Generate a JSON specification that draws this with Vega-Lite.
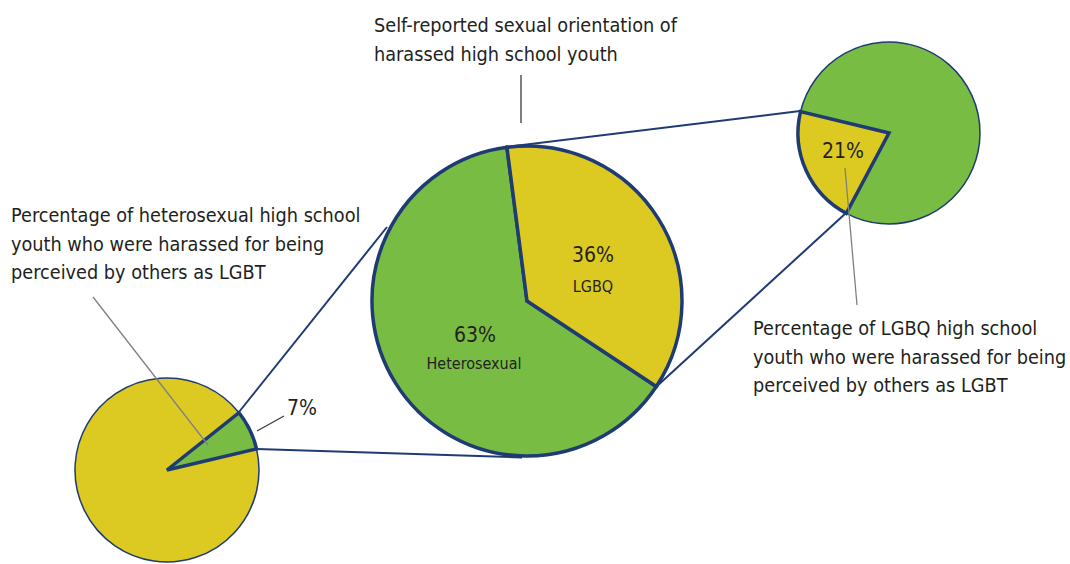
{
  "$schema": "https://vega.github.io/schema/vega-lite/v6.json",
  "width": 1070,
  "height": 564,
  "autosize": {"type": "none"},
  "padding": 0,
  "background": "white",
  "config": {"view": {"stroke": null}, "font": "DejaVu Sans Condensed, sans-serif"},
  "datasets": {
    "heteroPie": [
      {"pie": "Heterosexual high school youth", "group": "Harassed for being perceived as LGBT", "pct": 7, "cx": 167, "cy": 470},
      {"pie": "Heterosexual high school youth", "group": "Not harassed for being perceived as LGBT", "pct": 93, "cx": 167, "cy": 470}
    ],
    "orientationPie": [
      {"pie": "Harassed high school youth", "group": "Heterosexual", "pct": 63, "cx": 527, "cy": 301},
      {"pie": "Harassed high school youth", "group": "LGBQ", "pct": 36, "cx": 527, "cy": 301}
    ],
    "lgbqPie": [
      {"pie": "LGBQ high school youth", "group": "Harassed for being perceived as LGBT", "pct": 21, "cx": 889, "cy": 133},
      {"pie": "LGBQ high school youth", "group": "Not harassed for being perceived as LGBT", "pct": 79, "cx": 889, "cy": 133}
    ],
    "connectors": [
      {"x": 239, "y": 412, "x2": 387, "y2": 227},
      {"x": 257, "y": 449, "x2": 522, "y2": 457.5},
      {"x": 506, "y": 147, "x2": 800, "y2": 111},
      {"x": 656, "y": 387, "x2": 846, "y2": 213}
    ],
    "leaders": [
      {"tone": "grey", "x": 93, "y": 297, "x2": 208, "y2": 445},
      {"tone": "grey", "x": 845, "y": 168, "x2": 857, "y2": 305},
      {"tone": "dark", "x": 521, "y": 75, "x2": 521, "y2": 123},
      {"tone": "dark", "x": 257, "y": 431, "x2": 284, "y2": 416}
    ],
    "labels": [
      {"kind": "note", "x": 374, "y": 32, "text": "Self-reported sexual orientation of\nharassed high school youth"},
      {"kind": "note", "x": 11, "y": 222, "text": "Percentage of heterosexual high school\nyouth who were harassed for being\nperceived by others as LGBT"},
      {"kind": "note", "x": 753, "y": 335, "text": "Percentage of LGBQ high school\nyouth who were harassed for being\nperceived by others as LGBT"},
      {"kind": "pct", "x": 302, "y": 415, "text": "7%"},
      {"kind": "pct", "x": 593, "y": 262, "text": "36%"},
      {"kind": "pct", "x": 475, "y": 342, "text": "63%"},
      {"kind": "pct", "x": 843, "y": 158, "text": "21%"},
      {"kind": "group", "x": 593, "y": 292, "text": "LGBQ"},
      {"kind": "group", "x": 474, "y": 369, "text": "Heterosexual"}
    ]
  },
  "resolve": {"scale": {"theta": "independent", "color": "independent"}},
  "layer": [
    {
      "data": {"name": "connectors"},
      "mark": {"type": "rule", "stroke": "#1F3B73", "strokeWidth": 2},
      "encoding": {
        "x": {"field": "x", "type": "quantitative", "scale": {"domain": [0, 1070], "nice": false, "zero": false}, "axis": null},
        "y": {"field": "y", "type": "quantitative", "scale": {"domain": [0, 564], "nice": false, "zero": false, "reverse": true}, "axis": null},
        "x2": {"field": "x2"},
        "y2": {"field": "y2"}
      }
    },
    {
      "data": {"name": "heteroPie"},
      "encoding": {
        "x": {"field": "cx", "type": "quantitative", "scale": {"domain": [0, 1070], "nice": false, "zero": false}, "axis": null},
        "y": {"field": "cy", "type": "quantitative", "scale": {"domain": [0, 564], "nice": false, "zero": false, "reverse": true}, "axis": null},
        "theta": {"field": "pct", "type": "quantitative", "stack": true, "scale": {"nice": false, "range": [0.899, 7.182]}},
        "order": {"field": "pct", "sort": "ascending"},
        "color": {"field": "group", "type": "nominal", "scale": {"domain": ["Harassed for being perceived as LGBT", "Not harassed for being perceived as LGBT"], "range": ["#78BC43", "#DCCA22"]}, "legend": null}
      },
      "layer": [
        {"mark": {"type": "arc", "outerRadius": 92, "stroke": "#1F3B73", "strokeWidth": 1.5}},
        {
          "mark": {"type": "arc", "outerRadius": 92, "fillOpacity": 0, "stroke": "#1F3B73", "strokeWidth": 3.5, "strokeJoin": "miter"},
          "encoding": {"strokeOpacity": {"condition": {"test": "datum.group === 'Harassed for being perceived as LGBT'", "value": 1}, "value": 0}}
        }
      ]
    },
    {
      "data": {"name": "orientationPie"},
      "encoding": {
        "x": {"field": "cx", "type": "quantitative", "scale": {"domain": [0, 1070], "nice": false, "zero": false}, "axis": null},
        "y": {"field": "cy", "type": "quantitative", "scale": {"domain": [0, 564], "nice": false, "zero": false, "reverse": true}, "axis": null},
        "theta": {"field": "pct", "type": "quantitative", "stack": true, "scale": {"nice": false, "range": [-0.13, 6.153]}},
        "order": {"field": "pct", "sort": "ascending"},
        "color": {"field": "group", "type": "nominal", "scale": {"domain": ["Heterosexual", "LGBQ"], "range": ["#78BC43", "#DCCA22"]}, "legend": null}
      },
      "layer": [
        {"mark": {"type": "arc", "outerRadius": 155, "stroke": "#1F3B73", "strokeWidth": 3.5, "strokeJoin": "miter"}}
      ]
    },
    {
      "data": {"name": "lgbqPie"},
      "encoding": {
        "x": {"field": "cx", "type": "quantitative", "scale": {"domain": [0, 1070], "nice": false, "zero": false}, "axis": null},
        "y": {"field": "cy", "type": "quantitative", "scale": {"domain": [0, 564], "nice": false, "zero": false, "reverse": true}, "axis": null},
        "theta": {"field": "pct", "type": "quantitative", "stack": true, "scale": {"nice": false, "range": [3.63, 9.913]}},
        "order": {"field": "pct", "sort": "ascending"},
        "color": {"field": "group", "type": "nominal", "scale": {"domain": ["Harassed for being perceived as LGBT", "Not harassed for being perceived as LGBT"], "range": ["#DCCA22", "#78BC43"]}, "legend": null}
      },
      "layer": [
        {"mark": {"type": "arc", "outerRadius": 91, "stroke": "#1F3B73", "strokeWidth": 1.5}},
        {
          "mark": {"type": "arc", "outerRadius": 91, "fillOpacity": 0, "stroke": "#1F3B73", "strokeWidth": 3.5, "strokeJoin": "miter"},
          "encoding": {"strokeOpacity": {"condition": {"test": "datum.group === 'Harassed for being perceived as LGBT'", "value": 1}, "value": 0}}
        }
      ]
    },
    {
      "data": {"name": "leaders"},
      "mark": {"type": "rule", "strokeWidth": 1.3},
      "encoding": {
        "x": {"field": "x", "type": "quantitative", "scale": {"domain": [0, 1070], "nice": false, "zero": false}, "axis": null},
        "y": {"field": "y", "type": "quantitative", "scale": {"domain": [0, 564], "nice": false, "zero": false, "reverse": true}, "axis": null},
        "x2": {"field": "x2"},
        "y2": {"field": "y2"},
        "stroke": {"field": "tone", "type": "nominal", "scale": {"domain": ["grey", "dark"], "range": ["#808080", "#3A3A3A"]}, "legend": null}
      }
    },
    {
      "data": {"name": "labels"},
      "transform": [{"filter": "datum.kind === 'note'"}],
      "mark": {"type": "text", "align": "left", "baseline": "alphabetic", "fontSize": 19.7, "lineBreak": "\n", "lineHeight": 28.5, "color": "#231F20"},
      "encoding": {
        "x": {"field": "x", "type": "quantitative", "scale": {"domain": [0, 1070], "nice": false, "zero": false}, "axis": null},
        "y": {"field": "y", "type": "quantitative", "scale": {"domain": [0, 564], "nice": false, "zero": false, "reverse": true}, "axis": null},
        "text": {"field": "text"}
      }
    },
    {
      "data": {"name": "labels"},
      "transform": [{"filter": "datum.kind === 'pct'"}],
      "mark": {"type": "text", "align": "center", "baseline": "alphabetic", "fontSize": 21, "color": "#231F20"},
      "encoding": {
        "x": {"field": "x", "type": "quantitative", "scale": {"domain": [0, 1070], "nice": false, "zero": false}, "axis": null},
        "y": {"field": "y", "type": "quantitative", "scale": {"domain": [0, 564], "nice": false, "zero": false, "reverse": true}, "axis": null},
        "text": {"field": "text"}
      }
    },
    {
      "data": {"name": "labels"},
      "transform": [{"filter": "datum.kind === 'group'"}],
      "mark": {"type": "text", "align": "center", "baseline": "alphabetic", "fontSize": 16, "color": "#231F20"},
      "encoding": {
        "x": {"field": "x", "type": "quantitative", "scale": {"domain": [0, 1070], "nice": false, "zero": false}, "axis": null},
        "y": {"field": "y", "type": "quantitative", "scale": {"domain": [0, 564], "nice": false, "zero": false, "reverse": true}, "axis": null},
        "text": {"field": "text"}
      }
    }
  ]
}
